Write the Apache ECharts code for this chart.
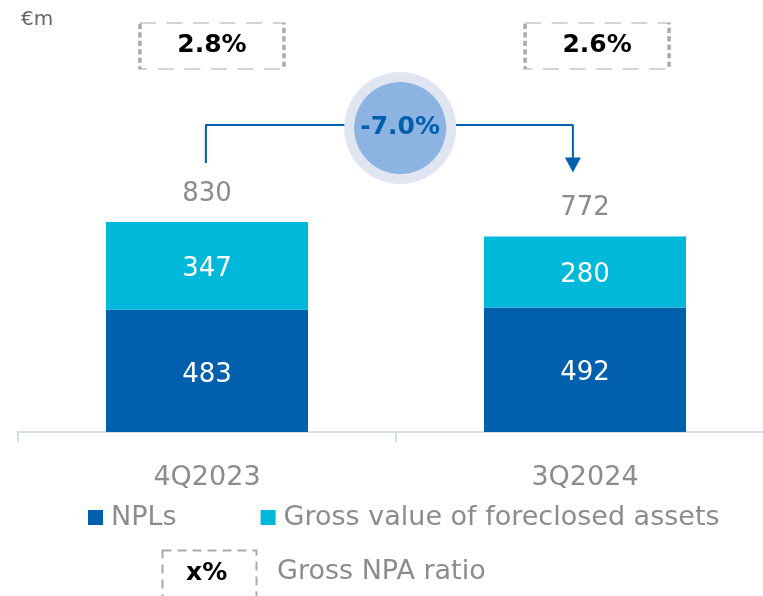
<!DOCTYPE html>
<html>
<head>
    <meta charset="utf-8">
    <title>NPA</title>
    <script src="https://cdn.jsdelivr.net/npm/echarts@6/dist/echarts.min.js"></script>
    <style>
        html, body { margin: 0; padding: 0; background: #fff; }
    </style>
</head>
<body>
    <div id="box" style="width: 763px;height: 596px;"></div>
    <script>
        // data
        var periods = ['4Q2023', '3Q2024'];
        var npls = [483, 492];
        var foreclosed = [347, 280];
        var npaRatio = ['2.8%', '2.6%'];
        var changeLabel = '-7.0%';

        var totals = npls.map(function(v, i){ return v + foreclosed[i]; });

        var dark = '#0060ae', cyan = '#00b8d9', grey = '#8c8c8c';
        var font = 'DejaVu Sans';

        var myChart = echarts.init(document.getElementById('box'));
        var option = {
            animation: false,
            textStyle: { fontFamily: font },
            title: {
                text: '€m', left: 16, top: 5,
                textStyle: { fontSize: 20, fontWeight: 'normal', color: '#666', fontFamily: font }
            },
            legend: {
                data: ['NPLs', 'Gross value of foreclosed assets'],
                left: 83, top: 499,
                itemWidth: 15, itemHeight: 15, itemGap: 84,
                icon: 'rect',
                textStyle: { fontSize: 27, color: grey, fontFamily: font, padding: [0, 0, 0, 3] }
            },
            grid: { left: 18, top: 27, width: 756, height: 405, outerBoundsMode: 'none' },
            xAxis: [{
                type: 'category',
                data: periods,
                axisLine: { lineStyle: { color: '#d6dee9', width: 2 } },
                axisTick: { show: true, length: 10, lineStyle: { color: '#d6dee9', width: 2 } },
                axisLabel: { fontSize: 27, color: grey, margin: 32 }
            }, {
                type: 'value', min: 0, max: 2, show: false
            }],
            yAxis: { type: 'value', min: 0, max: 1600, show: false },
            series: [{
                name: 'NPLs', type: 'bar', stack: 'npa', barWidth: 202,
                itemStyle: { color: dark },
                label: { show: true, position: 'inside', offset: [0, 4], color: '#fff', fontSize: 26 },
                data: npls
            }, {
                name: 'Gross value of foreclosed assets', type: 'bar', stack: 'npa',
                itemStyle: { color: cyan },
                label: { show: true, position: 'inside', offset: [0, 3], color: '#fff', fontSize: 26 },
                data: foreclosed
            }, {
                name: 'total', type: 'scatter', symbolSize: 0,
                itemStyle: { opacity: 1 },
                label: { show: true, position: 'top', distance: 15, color: grey, fontSize: 26,
                    formatter: function(p){ return p.value; } },
                data: totals
            }, {
                name: 'ratio', type: 'scatter', xAxisIndex: 1,
                symbol: 'rect', symbolSize: [144, 46],
                itemStyle: { color: 'rgba(0,0,0,0)', opacity: 1, borderColor: '#aaaaaa', borderWidth: 2, borderType: [9, 6] },
                label: { show: true, position: 'inside', color: '#000', fontSize: 25, fontWeight: 'bold',
                    formatter: function(p){ return npaRatio[p.dataIndex]; } },
                data: [[0.513, 1525], [1.532, 1525]]
            }, {
                name: 'arrow', type: 'line', xAxisIndex: 1, showSymbol: false, silent: true,
                lineStyle: { color: dark, width: 2 },
                data: [[0.497, 1063], [0.497, 1213], [1.468, 1213], [1.468, 1060]]
            }, {
                name: 'arrowhead', type: 'scatter', xAxisIndex: 1,
                symbol: 'triangle', symbolSize: [16, 15], symbolRotate: 180,
                itemStyle: { color: dark, opacity: 1 },
                data: [[1.468, 1055]]
            }, {
                name: 'ring', type: 'scatter', xAxisIndex: 1, z: 5,
                symbolSize: 112, itemStyle: { color: '#dfe6f2', opacity: 1 },
                data: [[1.011, 1201]]
            }, {
                name: 'change', type: 'scatter', xAxisIndex: 1, z: 6,
                symbolSize: 92, itemStyle: { color: '#8db3e2', opacity: 1 },
                label: { show: true, position: 'inside', color: dark, fontSize: 25, fontWeight: 'bold',
                    formatter: changeLabel },
                data: [[1.011, 1201]]
            }],
            graphic: [{
                type: 'rect', left: 160, top: 548,
                shape: { width: 94, height: 60 },
                style: { fill: 'none', stroke: '#aaaaaa', lineWidth: 2, lineDash: [9, 6] }
            }, {
                type: 'text', left: 186, top: 561,
                style: { text: 'x%', fill: '#000', font: 'bold 25px "DejaVu Sans"' }
            }, {
                type: 'text', left: 277, top: 558,
                style: { text: 'Gross NPA ratio', fill: grey, font: '27px "DejaVu Sans"' }
            }]
        };
        myChart.setOption(option);
    </script>
</body>
</html>
